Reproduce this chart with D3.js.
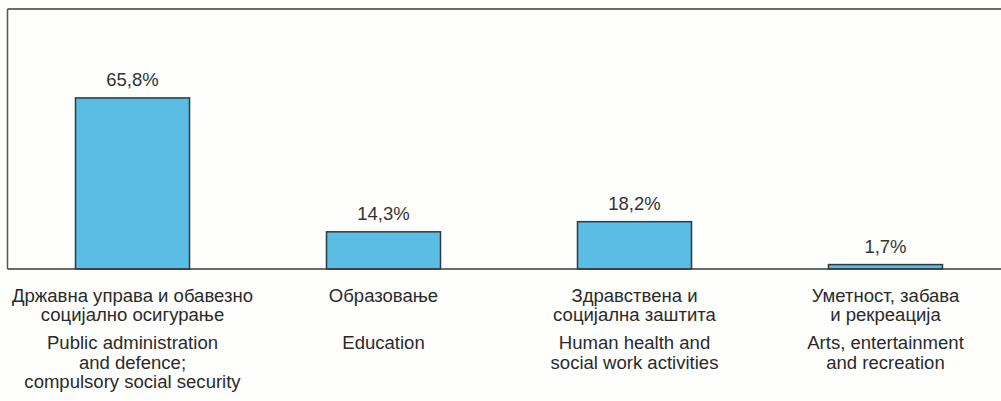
<!DOCTYPE html>
<html><head><meta charset="utf-8">
<script src="https://cdn.jsdelivr.net/npm/d3@7"></script>
<style>html,body{margin:0;padding:0;background:#fefefc;}svg{display:block;}</style>
</head><body>
<svg id="c" width="1001" height="401"></svg>
<script>
const categories = ["c1","c2","c3","c4"];
const values = [65.8, 14.3, 18.2, 1.7];
const valueLabels = ["65,8%","14,3%","18,2%","1,7%"];
const labelsSr = [["Државна управа и обавезно","социјално осигурање"],["Образовање"],["Здравствена и","социјална заштита"],["Уметност, забава","и рекреација"]];
const labelsEn = [["Public administration","and defence;","compulsory social security"],["Education"],["Human health and","social work activities"],["Arts, entertainment","and recreation"]];

(function(){
const svg = d3.select("#c");
const frameLeft = 7.5, frameTop = 9, base = 269;
const x = d3.scaleBand().domain(categories).range([7, 1011]).padding(0);
const y = d3.scaleLinear().domain([0, 100]).range([base, frameTop]);
const bw = 114;
const font = "'Liberation Sans', Arial, sans-serif";

svg.append("rect").attr("width",1001).attr("height",401).attr("fill","#fefefc");

svg.append("line").attr("x1",frameLeft).attr("x2",1001).attr("y1",frameTop).attr("y2",frameTop).attr("stroke","#6b6b6b").attr("stroke-width",2);
svg.append("line").attr("x1",frameLeft).attr("x2",frameLeft).attr("y1",frameTop).attr("y2",base).attr("stroke","#555").attr("stroke-width",1.5);

const cx = d => x(d) + x.bandwidth()/2;

svg.selectAll("rect.bar").data(categories).join("rect").attr("class","bar")
  .attr("x", d => cx(d) - bw/2)
  .attr("y", (d,i) => y(values[i]))
  .attr("width", bw)
  .attr("height", (d,i) => base - y(values[i]))
  .attr("fill", "#5bbde4").attr("stroke","#2f3a40").attr("stroke-width",1.5);

svg.append("line").attr("x1",frameLeft).attr("x2",1001).attr("y1",base).attr("y2",base).attr("stroke","#3a3a3a").attr("stroke-width",1.5);

svg.selectAll("text.val").data(categories).join("text").attr("class","val")
  .attr("x", cx).attr("y", (d,i) => y(values[i]) - 12)
  .attr("text-anchor","middle").attr("font-family",font).attr("font-size",18.5).attr("fill","#333")
  .text((d,i) => valueLabels[i]);

const lh = 19.5;
categories.forEach((d,i) => {
  const g = svg.append("g").attr("transform", `translate(${cx(d)},0) scale(1.06,1)`)
    .attr("font-family",font).attr("font-size",17.5).attr("fill","#2a2a2a").attr("text-anchor","middle");
  labelsSr[i].forEach((t,j) => g.append("text").attr("x", 0).attr("y", 302 + j*lh).text(t));
  labelsEn[i].forEach((t,j) => g.append("text").attr("x", 0).attr("y", 349.5 + j*lh).text(t));
});
})();
</script>
</body></html>
